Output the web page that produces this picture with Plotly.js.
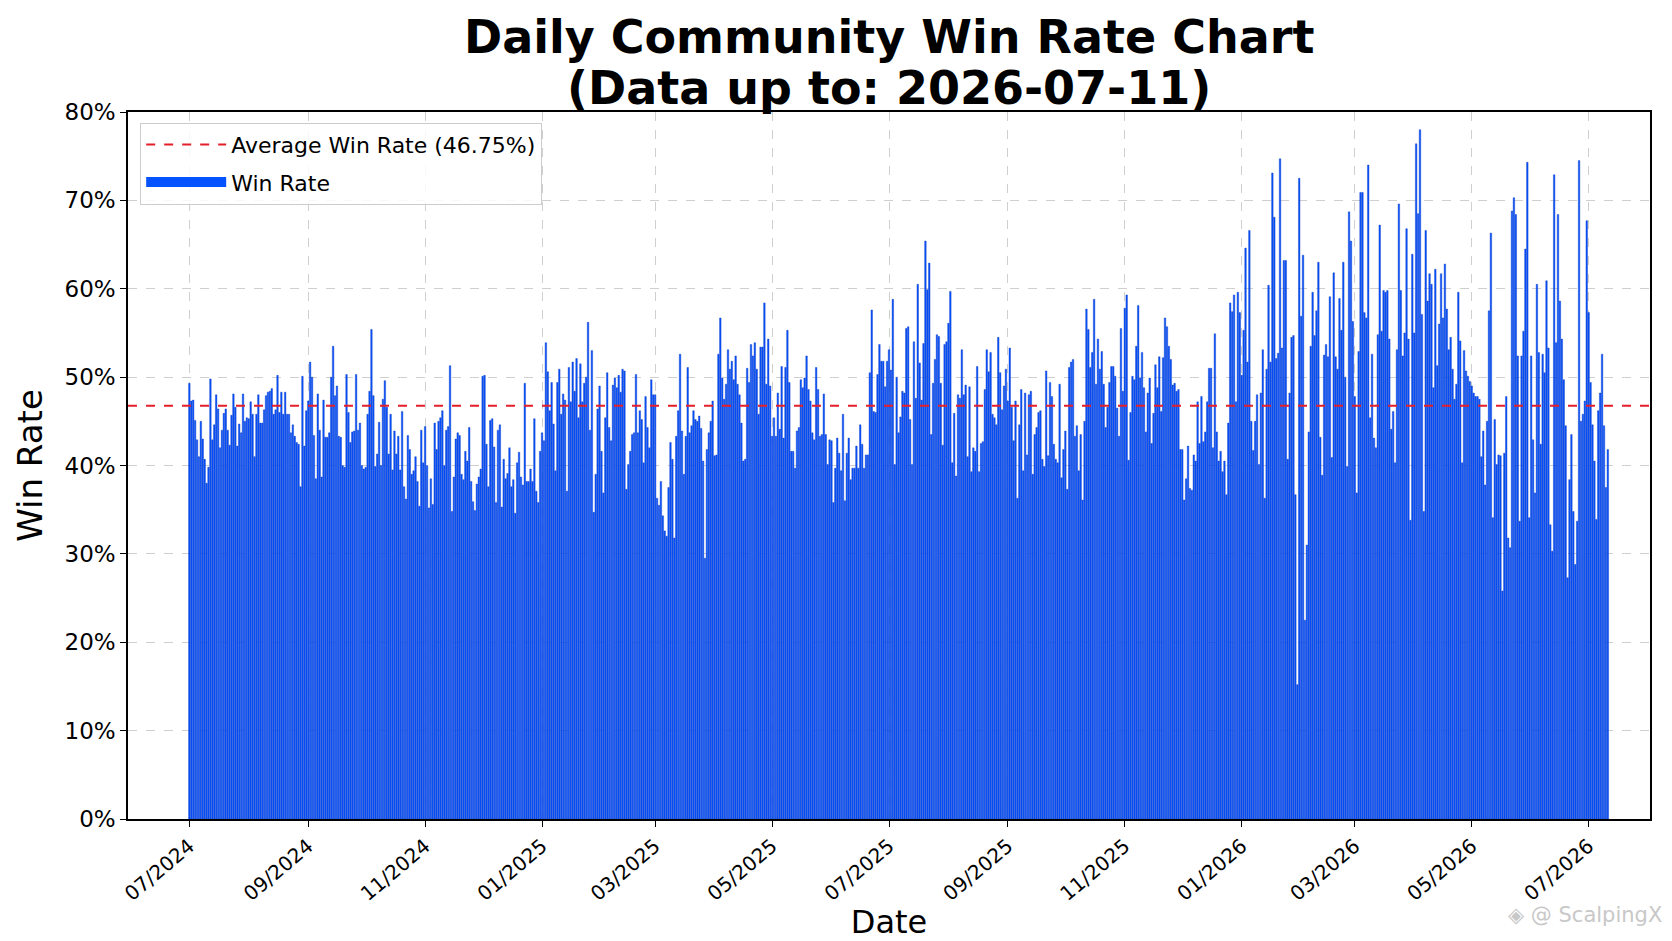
<!DOCTYPE html>
<html>
<head>
<meta charset="utf-8">
<script src="https://cdn.plot.ly/plotly-3.0.1.min.js"></script>
<style>
  html, body { margin: 0; padding: 0; background: #fff; }
  #chart { width: 1672px; height: 941px; }
</style>
</head>
<body>
<div id="chart"></div>
<script>
// daily win rate (%), two months or so per block
var startDate = '2024-07-01';
var avgRate = 46.75;

var jul24 = [49.3,47.3,47.4,45.1,42.9,41.0,45.0,43.0,40.7,38.0,
  39.8,49.8,42.9,44.6,48.0,46.4,42.0,44.0,45.9,46.4,
  44.0,42.3,45.7,48.1,46.6,42.2,44.7,43.7,48.1,45.0,
  45.4,45.3,47.2,45.8,41.0,45.8,48.0,44.8,44.8,46.3,
  47.9,48.3,48.4,48.7,45.8,46.3,50.2,46.0,48.3,45.8];
var aug24 = [48.3,45.8,45.8,43.7,44.6,43.3,42.6,42.4,37.6,50.1,
  42.2,46.2,47.3,51.7,50.0,43.4,38.5,48.1,44.0,38.7,
  47.4,43.2,43.2,43.7,50.0,53.5,47.9,49.0,43.3,43.2,
  40.0,39.8,50.3,46.0,42.6,43.8,43.9,50.3,44.0,44.8,
  40.0,39.6,39.8,45.8,48.4,55.4,47.9,39.9,41.3,44.9,
  40.0,47.5,49.6,46.6,41.3,45.8,39.5,43.9,41.3];
var oct24 = [43.3,39.5,46.1,37.6,36.2,43.4,41.8,39.0,39.4,41.0,
  38.2,35.4,44.0,40.3,44.4,40.0,35.2,38.5,35.6,44.8,
  41.8,45.0,45.4,46.2,40.0,44.0,44.4,51.3,34.8,38.7,
  43.0,43.7,43.4,39.0,38.4,41.6,40.5,44.3,38.2,35.9,
  34.9,37.9,38.7,39.6,50.1,50.2,42.4,37.6,45.1,45.3,
  42.1,35.8,44.0,44.6,35.3,40.7,38.5,39.1,42.0];
var dec24 = [37.6,38.4,34.6,40.3,41.5,38.7,37.8,49.3,38.2,38.2,
  39.6,38.2,45.3,37.1,35.8,41.6,43.7,42.8,53.9,50.6,
  46.2,49.4,44.7,39.4,49.4,50.9,45.8,48.1,47.4,37.1,
  51.1,47.2,51.7,48.4,52.1,45.4,51.5,47.2,49.3,50.0,
  56.2,44.0,53.0,34.7,39.0,46.4,49.0,41.6,36.9,45.4,
  50.5,44.3,42.8,49.1,49.9,48.8,50.2,48.3];
var feb25 = [50.9,50.7,37.3,40.1,41.6,43.5,43.7,50.3,43.7,46.2,
  45.2,40.3,47.8,44.3,42.0,49.7,48.0,48.0,36.3,35.5,
  38.2,34.3,32.6,32.0,37.5,42.6,40.7,31.8,43.3,46.2,
  52.6,43.9,39.0,43.3,51.1,43.7,44.5,46.2,45.2,45.0,
  45.6,44.2,40.5,29.5,41.8,43.7,45.0,47.3,41.1,41.2,
  52.6,56.7,49.9,47.5,49.2,53.1,50.9,51.8,49.7,52.4,
  49.2,48.0,44.8,40.5];
var apr25 = [40.7,51.0,49.4,53.7,52.4,53.9,50.9,45.8,53.4,53.4,
  58.4,49.2,54.3,49.0,43.3,45.4,43.3,48.2,44.1,51.2,
  43.1,51.1,55.3,49.4,41.6,41.6,39.7,43.9,44.3,49.7,
  48.8,49.9,52.4,48.6,47.3,43.7,42.9,51.1,48.6,43.3,
  43.5,48.1,43.5,40.1,42.9,42.8,35.8,39.7,43.1,41.4,
  39.4,45.8,36.0,41.4,43.1,38.4,39.7,39.7,42.2,39.7,
  44.6,42.4,39.7,41.2];
var jun25 = [41.2,50.5,57.6,46.1,46.0,50.3,53.7,51.8,51.8,48.9,
  51.8,53.1,50.8,58.8,40.1,50.0,43.7,45.5,48.4,48.2,
  55.5,55.7,45.2,40.1,54.0,47.6,60.5,51.6,47.4,53.8,
  65.4,59.9,62.9,43.5,49.3,52.0,54.8,54.6,49.3,42.3,
  53.7,54.0,56.1,59.7,40.3,45.9,38.8,48.0,47.6,53.1,
  48.0,49.1,41.0,48.9,39.3,42.0,41.6,51.2,39.3,42.5,
  42.7,48.6,53.1,50.6];
var aug25 = [52.8,45.8,45.4,44.6,54.5,50.5,46.3,49.0,50.9,47.3,
  53.3,46.6,42.8,47.3,36.3,44.6,48.6,39.4,48.2,41.2,
  48.0,48.4,39.0,43.5,44.3,46.0,46.2,40.7,39.9,50.7,
  41.1,49.4,47.8,42.4,40.7,40.3,49.2,38.6,41.8,43.9,
  37.3,51.1,51.7,52.0,43.3,44.5,39.4,43.5,36.1,45.0,
  57.7,55.4,51.1,52.8,58.8,49.2,54.3,50.9,52.9,49.2,
  44.3,46.6,49.4,51.2];
var oct25 = [51.2,50.1,46.5,43.3,55.5,48.4,57.8,59.3,40.6,46.0,
  50.1,49.7,53.5,58.1,49.9,52.8,48.8,43.8,48.2,49.9,
  42.5,45.9,51.4,48.8,52.3,46.1,52.2,56.7,55.7,53.5,
  52.0,49.1,49.3,48.4,48.6,41.8,41.8,36.1,38.5,42.2,
  37.4,37.2,41.2,40.5,47.2,42.5,47.8,42.7,43.8,47.2,
  51.0,51.0,42.0,54.9,43.8,40.5,41.6,39.3,40.5,36.7,
  44.8,58.4,57.4,59.3,47.2];
var jan26 = [59.6,57.3,50.2,55.3,64.6,51.7,66.6,45.0,41.7,45.0,
  48.0,40.1,48.2,53.1,36.3,50.9,60.4,51.7,73.1,68.1,
  52.1,52.7,74.7,53.3,63.2,63.2,40.7,48.2,54.5,54.7,
  36.7,15.2,72.5,56.9,63.8,22.5,31.0,43.8,53.5,59.6,
  54.7,57.5,63.0,43.2,38.9,52.5,53.7,52.3,59.1,40.9,
  61.8,52.3,50.9,58.9,55.3,63.0,50.0,39.9,68.7,65.4,
  56.3,47.8,36.9,52.9,70.9];
var mar26 = [70.9,57.3,56.7,74.0,45.4,52.6,43.1,42.0,54.8,67.2,
  55.2,59.8,59.6,59.8,54.3,44.1,46.1,40.3,53.1,69.6,
  59.8,52.4,55.0,66.8,54.3,33.8,63.9,55.0,76.4,68.5,
  78.0,57.1,34.8,66.6,58.6,61.7,60.5,48.8,62.2,51.3,
  56.0,61.7,56.7,62.8,57.7,53.1,54.5,50.9,47.5,49.2,
  59.6,54.1,40.3,53.0,50.7,50.1,49.5,49.0,48.2,47.8,
  47.8,47.5,41.0,43.9,37.8];
var may26 = [45.0,57.5,66.3,34.1,45.2,40.1,41.2,41.1,25.8,41.4,
  47.8,31.8,30.7,68.8,70.3,68.4,52.4,33.7,52.4,55.2,
  64.5,74.3,34.1,52.4,42.9,36.9,60.5,52.8,42.4,52.6,
  50.5,60.9,53.3,33.3,30.3,72.9,53.9,68.4,58.6,54.3,
  49.7,44.5,27.3,38.4,43.5,34.8,28.8,33.7,74.5,45.0,
  45.8,47.3,67.7,57.3,49.4,44.6,40.5,33.9,46.2,48.2,
  52.6,44.5,37.5,41.8];

var winRate = [].concat(jul24, aug24, oct24, dec24, feb25, apr25,
  jun25, aug25, oct25, jan26, mar26, may26);

var dates = [];
var d0 = new Date(startDate + 'T00:00:00Z');
for (var i = 0; i < winRate.length; i++) {
  var d = new Date(d0.getTime() + i * 86400000);
  dates.push(d.toISOString().slice(0, 10));
}

var xRange = ['2024-05-30', '2026-08-02'];
var barBlue = '#0552ff';

var avgLine = {
  x: xRange,
  y: [avgRate, avgRate],
  mode: 'lines',
  name: 'Average Win Rate (' + avgRate.toFixed(2) + '%)',
  legendgroup: 'avg',
  line: {color: '#e41f2a', width: 2, dash: 'dash'},
  hoverinfo: 'skip'
};

var bars = {
  x: dates,
  y: winRate,
  type: 'bar',
  name: 'Win Rate',
  showlegend: false,
  marker: {color: barBlue, line: {color: '#123cc0', width: 0.4}}
};

// wide patch for the legend, like the reference
var barKey = {
  x: [null],
  y: [null],
  mode: 'lines',
  name: 'Win Rate',
  legendgroup: 'bar',
  line: {color: barBlue, width: 18}
};

var font = 'DejaVu Sans, sans-serif';

var layout = {
  width: 1672,
  height: 941,
  margin: {l: 128, r: 22, t: 112, b: 122},
  paper_bgcolor: '#fff',
  plot_bgcolor: '#fff',
  bargap: 0.2,
  showlegend: true,
  font: {family: font, color: '#000'},
  xaxis: {
    type: 'date',
    range: xRange,
    tick0: '2024-07-01',
    dtick: 'M2',
    tickformat: '%m/%Y',
    tickangle: -40,
    tickfont: {size: 20},
    ticks: 'outside',
    ticklen: 6,
    tickcolor: '#000',
    showline: true,
    linecolor: '#000',
    linewidth: 1.5,
    mirror: true,
    showgrid: true,
    gridcolor: '#cfcfcf',
    griddash: 'dash',
    gridwidth: 1,
    title: {text: 'Date', font: {size: 32}, standoff: 4}
  },
  yaxis: {
    range: [0, 80],
    dtick: 10,
    ticksuffix: '%',
    tickfont: {size: 23},
    ticks: 'outside',
    ticklen: 6,
    tickcolor: '#000',
    showline: true,
    linecolor: '#000',
    linewidth: 1.5,
    mirror: true,
    zeroline: false,
    showgrid: true,
    gridcolor: '#cfcfcf',
    griddash: 'dash',
    gridwidth: 1,
    title: {text: 'Win Rate', font: {size: 34}, standoff: 12}
  },
  legend: {
    x: 0.008,
    y: 0.985,
    xanchor: 'left',
    yanchor: 'top',
    bgcolor: 'rgba(255,255,255,0.85)',
    bordercolor: '#cccccc',
    borderwidth: 1,
    font: {size: 22, family: font},
    itemwidth: 80,
    tracegroupgap: 6
  },
  annotations: [{
    text: '<b>Daily Community Win Rate Chart</b>',
    xref: 'paper', yref: 'paper',
    x: 0.5, y: 1,
    xanchor: 'center', yanchor: 'bottom',
    yshift: 46,
    showarrow: false,
    font: {family: font, size: 46, color: '#000'}
  }, {
    text: '<b>(Data up to: 2026-07-11)</b>',
    xref: 'paper', yref: 'paper',
    x: 0.5, y: 1,
    xanchor: 'center', yanchor: 'bottom',
    yshift: -5,
    showarrow: false,
    font: {family: font, size: 46, color: '#000'}
  }, {
    text: '\u25C8 @ ScalpingX',
    xref: 'paper', yref: 'paper',
    x: 1.0, y: -0.136,
    xanchor: 'right', yanchor: 'middle',
    xshift: 14,
    showarrow: false,
    font: {size: 21, color: '#c8c8c8', family: font}
  }]
};

Plotly.newPlot('chart', [avgLine, barKey, bars], layout, {displayModeBar: false});
</script>
</body>
</html>
